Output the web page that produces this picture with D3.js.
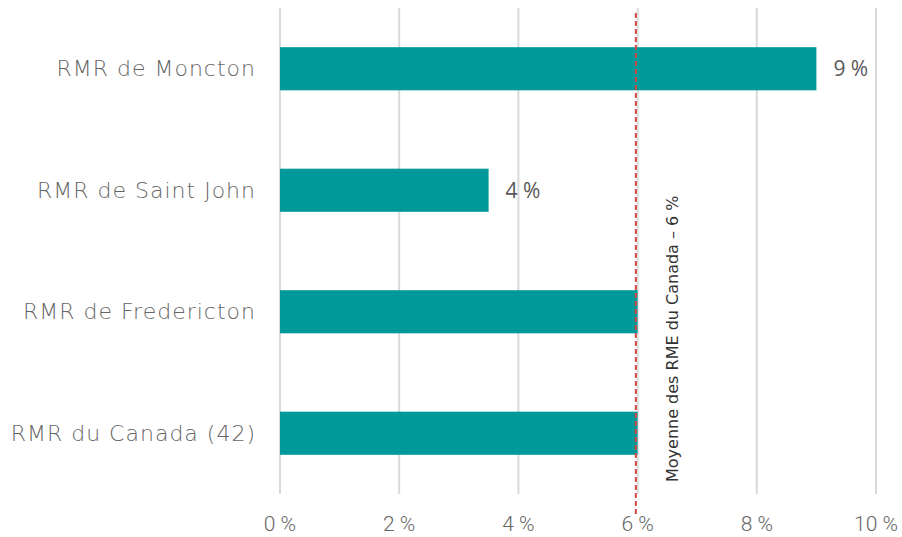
<!DOCTYPE html>
<html>
<head>
<meta charset="utf-8">
<script src="https://cdn.jsdelivr.net/npm/d3@7"></script>
<style>
  body { margin: 0; background: #fff; }
  svg { display: block; }
</style>
</head>
<body>
<svg width="902" height="537"></svg>
<script>
// data
const categories = ["RMR de Moncton", "RMR de Saint John", "RMR de Fredericton", "RMR du Canada (42)"];
const values = [9.0, 3.5, 6.0, 6.0];
const valueLabels = ["9 %", "4 %", null, null];
const xTicks = [0, 2, 4, 6, 8, 10];
const avgValue = 5.97;
const avgLabel = "Moyenne des RME du Canada – 6 %";

const svg = d3.select("svg");

const x = d3.scaleLinear().domain([0, 10]).range([280, 876]);
const y = d3.scaleBand()
    .domain(categories)
    .range([8, 494])
    .paddingInner(0.645)
    .paddingOuter(0.3225);

// gridlines
svg.append("g")
    .selectAll("line")
    .data(xTicks)
    .enter()
    .append("line")
    .attr("x1", d => x(d))
    .attr("x2", d => x(d))
    .attr("y1", 8)
    .attr("y2", 494)
    .attr("stroke", "#d9d9d9")
    .attr("stroke-width", 2);

// tick labels
svg.append("g")
    .selectAll("text")
    .data(xTicks)
    .enter()
    .append("text")
    .attr("x", d => x(d))
    .attr("y", 531)
    .attr("text-anchor", "middle")
    .style("font-family", "Roboto, sans-serif")
    .style("font-weight", 300)
    .style("font-size", "21px")
    .style("fill", "#666")
    .text(d => d + " %");

// bars
svg.append("g")
    .selectAll("rect")
    .data(categories)
    .enter()
    .append("rect")
    .attr("x", x(0))
    .attr("y", d => y(d))
    .attr("width", (d, i) => x(values[i]) - x(0))
    .attr("height", y.bandwidth())
    .attr("fill", "#009999");

// category labels
svg.append("g")
    .selectAll("text")
    .data(categories)
    .enter()
    .append("text")
    .attr("x", 256)
    .attr("y", d => y(d) + y.bandwidth() / 2)
    .attr("dy", "0.35em")
    .attr("text-anchor", "end")
    .style("font-family", "'DejaVu Sans', sans-serif")
    .style("font-weight", 300)
    .style("font-size", "22px")
    .style("letter-spacing", "1px")
    .style("fill", "#666")
    .text(d => d);

// value labels
svg.append("g")
    .selectAll("text")
    .data(categories.filter((d, i) => valueLabels[i]))
    .enter()
    .append("text")
    .attr("x", d => x(values[categories.indexOf(d)]) + 17)
    .attr("y", d => y(d) + y.bandwidth() / 2)
    .attr("dy", "0.35em")
    .style("font-family", "'Open Sans', sans-serif")
    .style("font-size", "21px")
    .style("fill", "#595959")
    .text(d => valueLabels[categories.indexOf(d)]);

// average line
svg.append("line")
    .attr("x1", x(avgValue))
    .attr("x2", x(avgValue))
    .attr("y1", 13)
    .attr("y2", 514)
    .attr("stroke", "#d64545")
    .attr("stroke-width", 2)
    .attr("stroke-dasharray", "5,3");

svg.append("text")
    .attr("transform", `translate(${x(avgValue) + 42},482) rotate(-90)`)
    .style("font-family", "'DejaVu Sans', sans-serif")
    .style("font-size", "16px")
    .style("fill", "#333")
    .text(avgLabel);
</script>
</body>
</html>
